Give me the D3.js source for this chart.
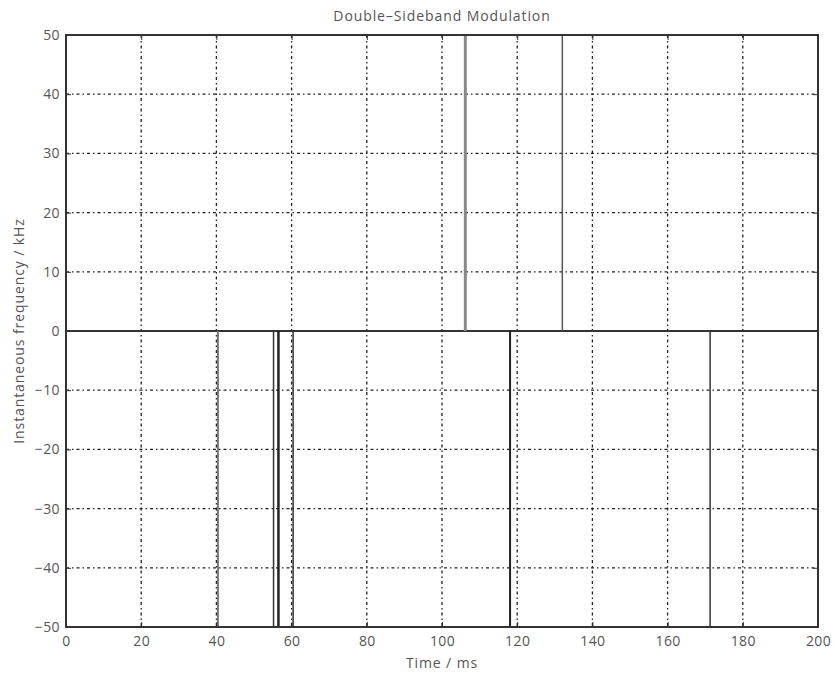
<!DOCTYPE html>
<html>
<head>
<meta charset="utf-8">
<script src="https://cdn.jsdelivr.net/npm/d3@7/dist/d3.min.js"></script>
<style>
  body { margin: 0; background: #fff; }
  svg { display: block; }
  text { font-family: "Open Sans", "DejaVu Sans", sans-serif; fill: #555; }
</style>
</head>
<body>
<script>
// Instantaneous frequency of the DSB signal: zero except at phase jumps,
// where it shoots off the scale (positive or negative spikes).
const spikeTimes = [40.4, 55.2, 56.5, 60.4, 106.2, 118.1, 132.0, 171.3];
const spikeFreqs = [-50, -50, -50, -50, 50, -50, 50, -50];
const spikeShades = ["#777", "#333", "#222", "#333", "#888", "#222", "#555", "#333"];
const spikeWidths = [2, 1.5, 2.5, 1.5, 3, 2, 1.5, 1.5];

const xTicks = [0, 20, 40, 60, 80, 100, 120, 140, 160, 180, 200];
const yTicks = [-50, -40, -30, -20, -10, 0, 10, 20, 30, 40, 50];

const W = 833, H = 673;
const margin = { left: 66, right: 15, top: 35, bottom: 46 };

const svg = d3.select("body").append("svg").attr("width", W).attr("height", H);

const x = d3.scaleLinear().domain([0, 200]).range([margin.left, W - margin.right]);
const y = d3.scaleLinear().domain([-50, 50]).range([H - margin.bottom, margin.top]);

const plot = svg.append("g");

// dotted grid
plot.append("g").selectAll("line").data(xTicks.slice(1, -1)).join("line")
  .attr("x1", d => x(d)).attr("x2", d => x(d))
  .attr("y1", y(50)).attr("y2", y(-50))
  .attr("stroke", "#222").attr("stroke-width", 1.3)
  .attr("stroke-dasharray", "3,3,1.5,3");
plot.append("g").selectAll("line").data(yTicks.slice(1, -1)).join("line")
  .attr("y1", d => y(d)).attr("y2", d => y(d))
  .attr("x1", x(0)).attr("x2", x(200))
  .attr("stroke", "#222").attr("stroke-width", 1.3)
  .attr("stroke-dasharray", "3,3,1.5,3");

// zero-frequency baseline
plot.append("line")
  .attr("x1", x(0)).attr("x2", x(200))
  .attr("y1", y(0)).attr("y2", y(0))
  .attr("stroke", "#333").attr("stroke-width", 2);

// spikes
plot.append("g").selectAll("line").data(spikeTimes).join("line")
  .attr("x1", d => x(d)).attr("x2", d => x(d))
  .attr("y1", y(0)).attr("y2", (d, i) => y(spikeFreqs[i]))
  .attr("stroke", (d, i) => spikeShades[i])
  .attr("stroke-width", (d, i) => spikeWidths[i]);

// axes with inward ticks (on all four sides)
const tick = 5;
const xAxisB = d3.axisBottom(x).tickValues(xTicks).tickSize(-tick).tickPadding(9);
const xAxisT = d3.axisTop(x).tickValues(xTicks).tickSize(-tick).tickFormat("");
const yAxisL = d3.axisLeft(y).tickValues(yTicks).tickSize(-tick).tickPadding(6);
const yAxisR = d3.axisRight(y).tickValues(yTicks).tickSize(-tick).tickFormat("");

function styleAxis(g) {
  g.select(".domain").remove();
  g.selectAll(".tick line").attr("stroke", "#333");
  g.selectAll("text").attr("font-size", 14).attr("fill", "#555")
    .attr("letter-spacing", "0.4px")
    .attr("font-family", "'Open Sans', 'DejaVu Sans', sans-serif");
}
svg.append("g").attr("transform", `translate(0,${y(-50)})`).call(xAxisB).call(styleAxis);
svg.append("g").attr("transform", `translate(0,${y(50)})`).call(xAxisT).call(styleAxis);
svg.append("g").attr("transform", `translate(${x(0)},0)`).call(yAxisL).call(styleAxis);
svg.append("g").attr("transform", `translate(${x(200)},0)`).call(yAxisR).call(styleAxis);

// frame
svg.append("rect")
  .attr("x", x(0)).attr("y", y(50))
  .attr("width", x(200) - x(0)).attr("height", y(-50) - y(50))
  .attr("fill", "none").attr("stroke", "#333").attr("stroke-width", 2);

// labels
svg.append("text").attr("x", (x(0) + x(200)) / 2).attr("y", 21)
  .attr("text-anchor", "middle").attr("font-size", 14).attr("letter-spacing", "0.9px")
  .text("Double–Sideband Modulation");
svg.append("text").attr("x", (x(0) + x(200)) / 2).attr("y", 668)
  .attr("text-anchor", "middle").attr("font-size", 14).attr("letter-spacing", "0.9px")
  .text("Time / ms");
svg.append("text")
  .attr("transform", `translate(24,${y(0)}) rotate(-90)`)
  .attr("text-anchor", "middle").attr("font-size", 14).attr("letter-spacing", "0.9px")
  .text("Instantaneous frequency / kHz");
</script>
</body>
</html>
